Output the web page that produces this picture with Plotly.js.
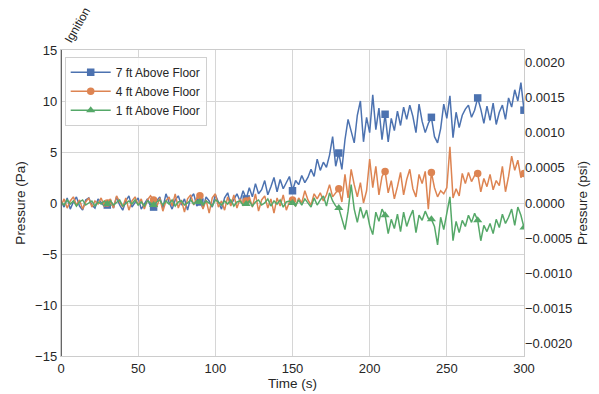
<!DOCTYPE html>
<html>
<head>
<meta charset="utf-8">
<script src="https://cdn.plot.ly/plotly-3.0.1.min.js"></script>
<style>html,body{margin:0;padding:0;background:#fff;}#chart{width:599px;height:394px;}</style>
</head>
<body>
<div id="chart"></div>
<script>
// Time (s), sampled every 2 s
var timeStart = 0, timeStep = 2;
var seriesNames = ["7 ft Above Floor", "4 ft Above Floor", "1 ft Above Floor"];

var pa7ft = [
 0.2,-0.4,0.5,-0.6,0.1,0.6,-0.3,-0.7,0.3,0.5,-0.2,-0.5,0.4,0.1,-0.3,
 -0.2,
 0.3,-0.5,0.6,-0.2,-0.7,0.2,0.7,-0.4,0.1,0.5,-0.6,-0.1,0.4,-0.3,
 -0.4,
 0.2,0.6,-0.5,0.9,0.1,-0.6,0.3,0.7,-0.2,0.4,-0.7,0.5,0.9,-0.3,
 0.1,
 -0.5,0.6,0.2,-0.4,0.8,0.1,-0.6,0.5,1.0,-0.2,0.4,0.9,0.2,1.2,
 0.4,
 1.5,0.6,1.9,0.9,1.3,2.2,0.8,1.6,2.5,1.1,2.3,1.4,2.0,2.6,
 1.2,
 2.2,1.8,2.7,2.0,2.5,3.3,2.6,4.3,3.2,4.0,3.5,4.7,6.5,3.6,
 4.9,
 3.3,6.2,8.2,7.0,5.9,8.6,10.0,6.0,8.4,6.9,10.6,7.2,9.3,6.2,
 8.7,
 6.0,8.3,7.1,9.0,7.6,9.4,8.2,9.6,8.5,6.9,9.7,8.0,6.9,7.8,
 8.4,
 6.5,5.9,7.3,9.7,8.3,10.5,6.4,8.9,7.4,8.6,9.2,9.6,8.4,9.1,
 10.3,
 9.2,7.8,9.5,8.1,9.8,7.7,8.9,9.6,8.2,10.3,9.4,11.1,10.0,11.8,
 9.1
];
var pa4ft = [
 -0.3,0.4,-0.5,0.2,0.6,-0.2,0.3,-0.6,0.1,0.5,-0.4,0.2,-0.1,0.5,-0.3,
 0.0,
 0.4,-0.5,0.7,0.1,-0.4,0.5,-0.7,0.2,0.6,-0.2,0.4,-0.6,0.3,0.7,
 0.3,
 -0.4,0.5,-0.8,0.2,0.6,-0.3,0.9,-0.5,0.3,-0.9,0.4,0.8,-0.2,0.5,
 0.7,
 -0.6,0.3,-1.0,0.5,0.9,-0.4,0.2,-0.7,0.6,-0.3,0.8,-0.5,0.4,-0.2,
 0.2,
 0.6,-0.4,0.9,-0.8,0.3,0.7,-0.5,0.4,-1.0,0.5,-0.3,0.8,-0.7,0.1,
 0.3,
 -0.3,0.5,0.0,1.2,0.3,-0.2,0.9,0.4,1.0,0.2,0.8,1.8,0.6,1.0,
 1.4,
 0.1,2.8,0.5,3.3,1.8,0.6,2.0,0.0,1.2,4.3,1.5,3.6,0.8,2.6,
 3.1,
 1.0,2.2,0.4,1.6,3.0,0.8,2.3,3.3,1.4,0.6,2.8,1.9,3.1,-0.6,
 3.0,
 1.5,0.6,1.2,0.9,1.5,5.5,0.5,1.4,0.7,2.9,1.9,3.0,2.1,2.7,
 2.9,
 1.1,2.4,1.6,2.8,1.3,2.2,1.7,3.6,1.1,2.6,4.6,3.2,4.2,2.5,
 2.9
];
var pa1ft = [
 0.1,-0.2,0.3,-0.1,0.2,-0.3,0.1,0.3,-0.2,0.0,0.2,-0.3,0.1,-0.1,0.2,
 -0.1,
 0.2,-0.2,0.1,0.3,-0.3,0.0,0.2,-0.1,0.3,-0.2,0.1,-0.3,0.2,0.0,
 -0.2,
 0.1,0.3,-0.2,0.2,-0.1,0.3,-0.3,0.1,0.2,-0.2,0.0,0.3,-0.1,0.2,
 0.1,
 -0.2,0.2,0.0,-0.3,0.3,0.1,-0.2,0.2,-0.1,0.3,-0.3,0.1,0.2,-0.2,
 -0.1,
 0.2,-0.3,0.1,0.3,-0.2,0.0,0.4,-0.3,0.2,-0.1,0.3,-0.4,0.1,0.2,
 0.0,
 -0.3,0.3,-0.2,0.4,0.0,-0.4,0.5,-0.2,0.3,0.7,-0.3,1.0,0.2,-0.3,
 -0.5,
 -1.6,-2.6,-0.8,1.8,-0.6,-1.9,-0.4,-1.5,-0.7,-2.2,-3.1,-0.9,-1.8,-0.6,
 -1.2,
 -3.0,-1.6,-2.5,-1.1,-2.8,-0.9,-2.3,-1.4,-0.7,-2.9,-1.2,-1.7,-0.8,-1.5,
 -1.6,
 -2.3,-4.1,-1.4,-2.6,-1.0,0.6,-3.7,-1.8,-2.9,-1.7,-2.3,-1.2,-1.9,-1.0,
 -1.7,
 -3.7,-2.2,-2.8,-2.0,-3.0,-1.6,-2.4,-1.1,-2.0,-1.4,-0.6,-2.2,-0.4,-1.2,
 -2.4
];
var markerEvery = 30; // seconds
var paPerPsi = 6894.757;

var colors = ["#4c72b0", "#dd8452", "#55a868"];
var symbols = ["square", "circle", "triangle-up"];
var allSeries = [pa7ft, pa4ft, pa1ft];

var time = pa7ft.map(function(_, i){ return timeStart + i * timeStep; });

var traces = [];
allSeries.forEach(function(vals, k){
  traces.push({x: time, y: vals, type: "scatter", mode: "lines",
    line: {color: colors[k], width: 1.5}, showlegend: false, hoverinfo: "skip"});
  var mx = [], my = [];
  time.forEach(function(t, i){ if (t > 0 && t % markerEvery === 0) { mx.push(t); my.push(vals[i]); } });
  traces.push({x: mx, y: my, type: "scatter", mode: "markers",
    marker: {color: colors[k], symbol: symbols[k], size: symbols[k] === "triangle-up" ? 8 : 7.5}, showlegend: false, hoverinfo: "skip"});
});
allSeries.forEach(function(vals, k){
  traces.push({x: [null], y: [null], type: "scatter", mode: "lines+markers", name: seriesNames[k],
    line: {color: colors[k], width: 1.5},
    marker: {color: colors[k], symbol: symbols[k], size: symbols[k] === "triangle-up" ? 8 : 7.5}});
});
// secondary axis anchor trace
traces.push({x: [null], y: [null], yaxis: "y2", type: "scatter", mode: "lines", showlegend: false, hoverinfo: "skip"});

var fontFam = "Liberation Sans, Arial, sans-serif";
var txt = "#262626";
var axBase = {
  showgrid: true, gridcolor: "#d6d6d6", gridwidth: 1,
  zeroline: false, showline: true, linecolor: "#cccccc", linewidth: 1.25, mirror: true,
  ticks: "", tickfont: {family: fontFam, size: 13, color: txt}
};

var layout = {
  width: 599, height: 394,
  margin: {l: 61, r: 75, t: 50, b: 38},
  paper_bgcolor: "#ffffff", plot_bgcolor: "#ffffff",
  font: {family: fontFam, color: txt},
  showlegend: true,
  legend: {x: 0.008, y: 0.978, xanchor: "left", yanchor: "top",
    bgcolor: "rgba(255,255,255,0.85)", bordercolor: "#d0d0d0", borderwidth: 1,
    itemwidth: 40,
    font: {family: fontFam, size: 12, color: txt}, tracegroupgap: 0},
  xaxis: Object.assign({}, axBase, {range: [0, 300], dtick: 50, tick0: 0,
    title: {text: "Time (s)", font: {family: fontFam, size: 13.5, color: txt}, standoff: 2}}),
  yaxis: Object.assign({}, axBase, {range: [-15, 15], dtick: 5, tick0: 0,
    title: {text: "Pressure (Pa)", font: {family: fontFam, size: 13.5, color: txt}, standoff: 6}}),
  yaxis2: {overlaying: "y", side: "right", range: [-15 / paPerPsi, 15 / paPerPsi],
    dtick: 0.0005, tick0: 0, tickformat: ".4f", showgrid: false, zeroline: false, showline: false,
    ticks: "", tickfont: {family: fontFam, size: 13, color: txt},
    title: {text: "Pressure (psi)", font: {family: fontFam, size: 13.5, color: txt}, standoff: 6}},
  shapes: [{type: "line", xref: "x", yref: "paper", x0: 0, x1: 0, y0: 0, y1: 1,
    line: {color: "#666666", width: 2}}],
  annotations: [{text: "Ignition", xref: "x", yref: "paper", x: 0, y: 1,
    xanchor: "left", yanchor: "bottom", showarrow: false, textangle: -60,
    font: {family: fontFam, size: 12, color: txt}, xshift: -2, yshift: 2}]
};

Plotly.newPlot("chart", traces, layout, {displayModeBar: false, staticPlot: true});
</script>
</body>
</html>
